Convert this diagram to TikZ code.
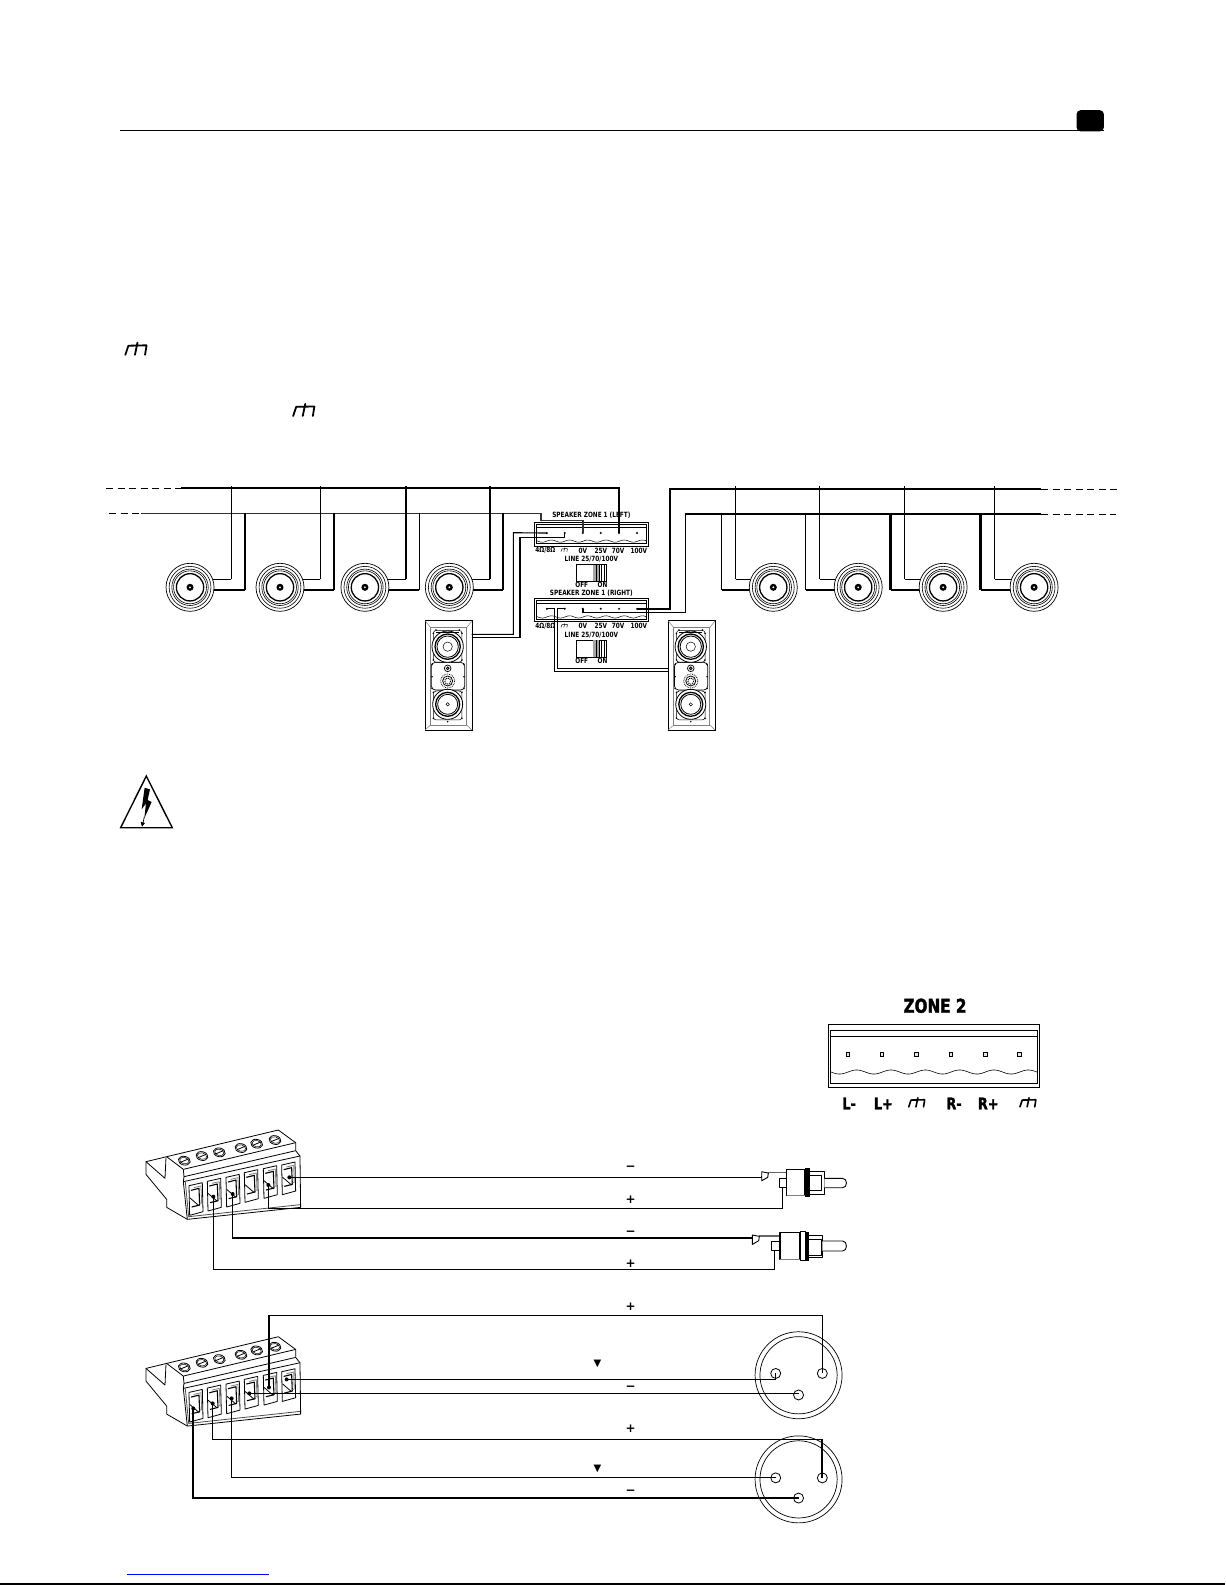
\documentclass[tikz,border=0pt]{standalone}
\usepackage{fontspec}
\setmainfont{DejaVu Sans}
\newfontfamily\labf[FakeStretch=0.8]{DejaVu Sans}
\newfontfamily\labh[FakeStretch=0.8,BoldFeatures={FakeBold=1.6}]{DejaVu Sans}
\tikzset{
 thinw/.style={line width=1.1pt,line join=miter},
 thickw/.style={line width=2.3pt,line join=miter},
 medw/.style={line width=1.6pt,line join=miter},
 busw/.style={line width=2pt,line join=miter},
 dashw/.style={line width=1pt,dash pattern=on 7pt off 4.5pt},
 fine/.style={line width=.7pt},
 tiny/.style={inner sep=0pt,font=\labf\bfseries\fontsize{7.2}{8}\selectfont},
 zonelab/.style={inner sep=0pt,font=\labh\bfseries\fontsize{16}{18}\selectfont},
 sign/.style={inner sep=0pt,font=\bfseries\fontsize{12}{13}\selectfont},
 zl/.style={x=.3333pt,y=-.3333pt},
 blockone/.style={shift={(128.6,1108)},zl},
 blocktwo/.style={shift={(128.6,1312.5)},zl},
 rcascope/.style={shift={(722.2,1127.8)},zl},
}
% ground glyph: top-left x, y, scale, width
\newcommand\gndglyph[4]{\begin{scope}[shift={(#1,#2)},scale=#3,line width=#4,line cap=round]
 \draw (3,3)--(21,2.6) (12,0)--(9.5,12) (3,3)--(0,12) (21,2.6)--(19.5,12);
\end{scope}}
% zone box
\newcommand\zonebox[4]{% prefix, top y, title, title offset
 \draw[fine] (529,#2) rectangle (641.5,#2+23);
 \draw[fine] (531,#2+2) rectangle (639.5,#2+21);
 \draw[line width=.5pt] (531,#2+5)--(639.5,#2+5);
 \draw[line width=.5pt] plot[domain=531:639.5,samples=90] (\x,{#2+18.3+1.1*sin((\x-532)*20)});
 \foreach \k/\xx in {a/541,b/558.7,c/576.5,d/594.3,e/612.4,f/630.2}{
   \coordinate (#1\k) at (\xx,#2+10.3);
   \fill (\xx,#2+10.3) circle (1.1);
 }
 \node[tiny] (#1title) at (585,#2+#4) {#3};
 \node[tiny] (#1la) at (539.5,#2+27.5) {4Ω/8Ω};
 \gndglyph{555}{#2+25}{.3}{.5pt}
 \node[tiny] (#1lc) at (576.5,#2+27.5) {0V};
 \node[tiny] (#1ld) at (594.3,#2+27.5) {25V};
 \node[tiny] (#1le) at (611.5,#2+27.5) {70V};
 \node[tiny] (#1lf) at (632,#2+27.5) {100V};
 \node[tiny] (#1line) at (585,#2+36) {LINE 25/70/100V};
 \draw[line width=.8pt,fill=white] (570,#2+41.5) rectangle (600,#2+58);
 \fill[black!35] (587,#2+41.5) rectangle (593,#2+58);
 \foreach \xx in {590,592.5,595,597.5}{\draw[line width=.6pt] (\xx,#2+41.5)--(\xx,#2+58);}
 \node[tiny] (#1off) at (575.5,#2+61.5) {OFF};
 \node[tiny] (#1on) at (596,#2+61.5) {ON};
}
% in-wall speaker, zoom units
\newcommand\wallspk[1]{\begin{scope}[shift={(#1,598.5)},zl]
 \draw[line width=.9pt,fill=white] (45,47) rectangle (186,375);
 \draw[line width=.5pt,gray] (45,47)--(62,68) (186,47)--(170,68) (45,375)--(62,360) (186,375)--(170,360);
 \draw[line width=.6pt,black!50] (62,68) rectangle (170,360);
 \draw[line width=.5pt,rounded corners=3pt] (70,76) rectangle (156,172);
 \draw[line width=.7pt,rounded corners=4pt] (64,172) rectangle (164,255);
 \draw[line width=.5pt,rounded corners=3pt] (70,258) rectangle (156,345);
 \draw[line width=.8pt,fill=white] (113,125) circle (47);
 \draw[line width=1.3pt] (113,125) circle (38);
 \draw[line width=.8pt] (113,125) circle (32);
 \draw[line width=.5pt] (113,125) circle (14);
 \draw[line width=1.4pt] (78,82)--(148,82);
 \draw[line width=.8pt,fill=white] (113,298) circle (45);
 \draw[line width=1.3pt] (113,298) circle (36);
 \draw[line width=.8pt] (113,298) circle (30);
 \draw[line width=.5pt] (113,298) circle (5);
 \draw[line width=.7pt] (113,190) circle (10);
 \draw[line width=.9pt] (113,190) circle (4);
 \draw[line width=.8pt,densely dotted] (113,228) circle (21);
 \draw[line width=.8pt] (113,228) circle (15);
 \draw[line width=1pt,densely dotted] (113,228) circle (9);
 \foreach \px/\py in {70/85,70/165,156/85,156/165,78/75,148/75,66/178,162/178,66/250,162/250,70/262,156/262,70/340,156/340,113/350,66/215,162/215}{
  \fill (\px,\py) circle (2.6);}
\end{scope}}
% terminal block, zoom units
\newcommand\tblock[1]{\begin{scope}[#1]
 \begin{scope}[line width=.8pt,line join=round]
 \draw[fill=white] (110,110)--(48,125)--(48,163)--(110,238)--(110,262)--(172,298)--(512,262)--(510,108)--(497,92)--(497,68)--(445,30)--cycle;
 \draw (48,125)--(105,175)--(108,113);
 \draw (110,110)--(160,148)--(497,68);
 \draw (160,148)--(162,170)--(497,92);
 \draw (162,170)--(160,185)--(510,108);
 \draw (160,185)--(172,298);
 \draw[black!70] (166,186)--(176,290)--(510,254);
 \foreach \sx/\sy in {163/122,216/108,268/97,333/84,380/71,435/60}{
  \draw[rotate around={-13:(\sx,\sy)}] (\sx,\sy) ellipse (18 and 13);
  \draw[line width=.5pt,rotate around={-13:(\sx,\sy)}] (\sx,\sy) ellipse (14 and 9.5);
  \draw (\sx-12,\sy+5)--(\sx+12,\sy-5);
 }
 \foreach \sx/\sy in {177/197,232/184,288/172,343/158,400/146,455/135}{
  \draw (\sx,\sy)--(\sx+40,\sy-9)--(\sx+42,\sy+78)--(\sx+2,\sy+89)--cycle;
  \draw[line width=1.1pt] (\sx+6,\sy+14)--(\sx+30,\sy+8)--(\sx+32,\sy+58)--(\sx+8,\sy+64);
  \draw[gray] (\sx+14,\sy+6)--(\sx+36,\sy+1)--(\sx+38,\sy+52)--(\sx+32,\sy+53);
  \draw (\sx+2,\sy+36)--(\sx+30,\sy+60);
 }
 \end{scope}
\end{scope}}
\begin{document}
\begin{tikzpicture}[x=1.0108pt,y=-1.0108pt]
\useasboundingbox (0,0) rectangle (1212,1568);
\fill[white] (0,0) rectangle (1212,1568);
% header
\draw[line width=1pt] (119,129)--(1092,129);
\fill[rounded corners=4pt] (1065,109) rectangle (1092,130);
\gndglyph{124}{339}{1}{1.8pt}
\gndglyph{290}{399.5}{1}{1.8pt}
% footer
\draw[line width=1pt,blue] (125.6,1558)--(265.8,1558);
\draw[line width=1.2pt] (0,1567)--(1212,1567);

% boxes
\zonebox{zl}{517}{SPEAKER ZONE 1 (LEFT)}{-7.5}
\zonebox{zr}{592}{SPEAKER ZONE 1 (RIGHT)}{-5}

% buses
\coordinate (topL) at (179,483); \coordinate (botL) at (139,508);
\coordinate (topR) at (663,484); \coordinate (botR) at (678,508.5);
\coordinate (topRe) at (1030,484); \coordinate (botRe) at (1030,508.5);
\draw[dashw] (105,483)--(topL);
\draw[dashw] (108,508)--(botL);
\draw[dashw] (topRe)--(1105,484);
\draw[dashw] (botRe)--(1104,508.5);
\draw[busw] (topL)-|(zle);
\draw[medw,black!80] (botL)--(535,508)--(535,515)-|(zlc);
\draw[busw] (zrf)-|(topR)--(topRe);
\draw[medw] (zrc)--(576.5,606)-|(botR)--(botRe);

% ceiling speakers
\foreach \n/\c/\t/\tw/\b/\bw in {
 s1/188/229/thinw/242.4/thickw,
 s2/277/317/thinw/330.4/thickw,
 s3/361/401.7/thickw/414.8/thinw,
 s4/444.5/484.4/thickw/497.6/thinw,
 s5/765/728/thinw/714/thinw,
 s6/849/811/thinw/797/thinw,
 s7/933/895/thinw/881/thickw,
 s8/1023/984/thinw/970/thickw}{
 \coordinate (\n t) at (\c,573);
 \coordinate (\n b) at (\c,584);
 \draw[\tw] (\t,481)--(\t,573);
 \draw[thinw] (\t,573)--(\n t);
 \draw[\bw] (\b,507)--(\b,584);
 \draw[thickw] (\b,584)--(\n b);
 \node[circle,draw,line width=.7pt,fill=white,minimum size=48pt,inner sep=0pt] (\n) at (\c,581) {};
 \draw[line width=.6pt] (\n) circle (20.7);
 \draw[line width=.6pt] (\n) circle (18);
 \draw[line width=.6pt] (\n) circle (16.3);
 \draw[line width=1.3pt] (\n) circle (13.5);
 \fill (\n) circle (3.5);
 \fill[white] (\n) circle (1);
}

% in-wall speakers
\wallspk{405.6}
\wallspk{646.1}
\coordinate (wlA) at (466.6,627.5); \coordinate (wlB) at (466.6,630.9);
\coordinate (wrA) at (661,661); \coordinate (wrB) at (661,664.5);
\draw[thinw] (wlA)-|(507.9,527)--(zla);
\draw[thinw] (wlB)-|(514.4,531.6)-|(zlb);
\draw[thinw] (zra)-|(548.7,664.5)--(wrB);
\draw[thinw] (zrb)-|(551.4,661)--(wrA);

% warning triangle
\begin{scope}[shift={(98.9,742)},zl]
 \draw[line width=1.4pt,line join=miter] (139,78)--(62,233)--(217,233)--cycle;
 \fill (134,113)--(150,118)--(143,150)--(155,156)--(133,205)--(138,160)--(125,178)--cycle;
 \draw[line width=.7pt] (133,200)--(128,225);
 \fill (122,215)--(135,219)--(126,230)--cycle;
\end{scope}

% ZONE 2
\node[inner sep=0pt,font=\labh\bfseries\fontsize{19}{22}\selectfont] (ztitle) at (925,995) {ZONE 2};
\draw[line width=.8pt] (819.5,1013.7) rectangle (1028,1075.7);
\draw[line width=.8pt] (821.5,1019) rectangle (1026,1071.5);
\draw[line width=.8pt] (821.5,1025.6)--(1026,1025.6);
\draw[line width=.6pt] plot[domain=821.5:1026,samples=150] (\x,{1060.5+2*sin((\x-822)*10.6)});
\foreach \xx in {838.6,872.3,906.6,940.5,974.8,1008.4}{
 \draw[line width=.5pt,fill=black!10] (\xx-1.7,1041.3) rectangle (\xx+1.7,1044.7);}
\node[zonelab] (zL1) at (840,1091.6) {L-};
\node[zonelab] (zL2) at (873.9,1091.6) {L+};
\gndglyph{899}{1086}{.75}{1.6pt}
\node[zonelab] (zR1) at (943.8,1091.6) {R-};
\node[zonelab] (zR2) at (977.6,1091.6) {R+};
\gndglyph{1009}{1086}{.75}{1.6pt}

% terminal blocks
\tblock{blockone}
\tblock{blocktwo}
\begin{scope}[blockone]
 \foreach \nm/\px/\py in {ap2/250/230,ap3/308/222,ap5/415/195,ap6/478/172}{
  \coordinate (\nm) at (\px,\py); \fill (\px,\py) circle (6);}
\end{scope}
\begin{scope}[blocktwo]
 \foreach \nm/\px/\py in {bp1/190/245,bp2/248/230,bp3/305/215,bp4/358/200,bp5/417/182,bp6/470/158}{
  \coordinate (\nm) at (\px,\py); \fill (\px,\py) circle (6);}
\end{scope}

% RCA plugs
\begin{scope}[rcascope]
 \coordinate (ratip) at (95,108); \coordinate (rastub) at (158,143);
 \coordinate (rbtip) at (67,297); \coordinate (rbstub) at (133,332);
 \begin{scope}[line width=.9pt,line join=round]
 % plug A
 \draw[black!60,line width=1.6pt] (113,97)--(170,97);
 \draw[fill=white] (95,95)--(115,99)--(113,112)--(95,122)--cycle;
 \draw (170,115)--(148,115)--(148,143)--(170,143);
 \draw[fill=white,line width=1.1pt] (170,88) rectangle (225,167);
 \draw[black!50,line width=1.4pt] (170,167)--(225,167);
 \fill (225,83) rectangle (240,172);
 \draw (240,95)--(283,95)--(283,163)--(240,163) (240,105)--(275,105)--(275,150)--(240,150);
 \draw[fill=white] (283,115)--(338,115) .. controls (353,115) and (353,143) .. (338,143)--(283,143);
 % plug B
 \draw[black!60,line width=1.6pt] (87,287)--(150,287);
 \draw[fill=white] (67,285)--(88,289)--(86,302)--(67,313)--cycle;
 \draw (150,305)--(125,305)--(125,332)--(150,332);
 \draw[fill=white,line width=1.1pt] (150,278) rectangle (210,358);
 \draw[black!50,line width=1.4pt] (150,358)--(210,358);
 \draw (210,273) rectangle (225,362);
 \fill (225,275) rectangle (238,362);
 \draw (238,287)--(277,287)--(277,353)--(238,353) (238,297)--(275,297)--(275,345)--(238,345);
 \draw[fill=white] (277,303)--(338,303) .. controls (353,303) and (353,333) .. (338,333)--(277,333);
 \end{scope}
\end{scope}
\draw[thinw] (ap6)--(ap6-|ratip)--(ratip);
\draw[thinw] (ap5)|-(rastub|-0,1195.4)--(rastub);
\draw[medw] (ap3)|-(rbtip|-0,1225)--(rbtip);
\draw[thinw] (ap2)|-(rbstub|-0,1255.6)--(rbstub);

% XLR connectors
\foreach \n/\cy/\py/\qy in {xa/1360.5/1358.7/1380,xb/1463.5/1462/1482}{
 \node[circle,draw,line width=.7pt,minimum size=87pt,inner sep=0pt] (\n o) at (790,\cy) {};
 \node[circle,draw,line width=.7pt,minimum size=77.2pt,inner sep=0pt] (\n i) at (790,\cy) {};
 \node[circle,draw,line width=.8pt,fill=white,minimum size=10pt,inner sep=0pt] (\n l) at (767.4,\py) {};
 \node[circle,draw,line width=.8pt,fill=white,minimum size=10pt,inner sep=0pt] (\n r) at (813.5,\py) {};
 \node[circle,draw,line width=.8pt,fill=white,minimum size=10pt,inner sep=0pt] (\n b) at (790,\qy) {};
}
\coordinate (xaE) at (767.4,1365.3);
\draw[thinw] (bp5)|-(813.5,1301)--(xar.center);
\draw[thinw] (bp6)--(bp6-|xaE);
\draw[thinw] (bp6-|xaE)--(xal.center);
\draw[thinw] (bp4)--(bp4-|xab);
\draw[thinw] (bp2)|-(813.5,1424);
\draw[thickw] (813.5,1424)--(xbr.center);
\draw[thinw] (bp3)|-(xbl.center);
\draw[thickw] (bp1)|-(xbb.center);
\draw[line width=1.4pt] (bp2)--(bp2|-0,1400);

% signs
\foreach \nm/\sx/\sy/\tx in {g1/624/1155.5/−,g2/624/1187/+,g3/624/1220.5/−,g4/624/1250/+,g5/624/1293/+,g6/624/1373.5/−,g7/624/1413/+,g8/624/1476.5/−}{
 \node[sign] (\nm) at (\sx,\sy) {\tx};}
\node[inner sep=0pt,font=\fontsize{10}{11}\selectfont] (tri1) at (591,1349) {▼};
\node[inner sep=0pt,font=\fontsize{10}{11}\selectfont] (tri2) at (591,1453) {▼};
\end{tikzpicture}
\end{document}
